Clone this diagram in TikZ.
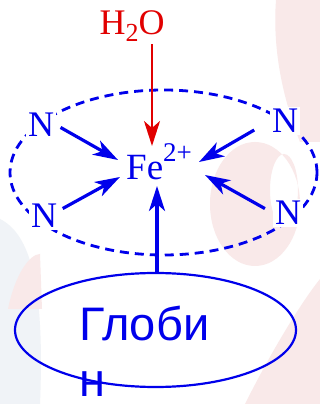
\documentclass[tikz,border=0pt]{standalone}
\usepackage{fontspec}
\setmainfont{Liberation Serif}
\newfontfamily\globfont{Liberation Sans}
\usetikzlibrary{arrows.meta,shapes.geometric}

\definecolor{ligblue}{RGB}{0,0,235}
\definecolor{watred}{RGB}{225,0,0}
\definecolor{bgpink}{RGB}{249,233,233}
\definecolor{bggrey}{RGB}{240,243,247}

\tikzset{
  lig/.style={ligblue, line width=3.2pt, -{Stealth[length=25pt,width=16pt,inset=7pt]}},
  atom/.style={text=ligblue, fill=white, inner sep=2pt, font=\fontsize{36}{36}\selectfont},
  ring/.style={draw=ligblue, ellipse, line width=2.8pt, dash pattern=on 9pt off 6pt,
    minimum width=307pt, minimum height=165pt},
  globe/.style={draw=ligblue, ellipse, line width=2.2pt, minimum width=281pt, minimum height=114pt}
}

\begin{document}
\begin{tikzpicture}[x=1pt,y=1pt]
  \useasboundingbox (0,0) rectangle (320,404);
  \fill[white] (0,0) rectangle (320,404);
  % faded protein behind
  \fill[bgpink] (276,404) .. controls (272,350) and (285,300) .. (300,262) -- (320,262) -- (320,404) -- cycle;
  \fill[bgpink, even odd rule] (255,200) ellipse [x radius=45, y radius=62]
                               (284,214) ellipse [x radius=14, y radius=36];
  \fill[bgpink] (245,0) .. controls (270,50) and (300,100) .. (320,125) -- (320,0) -- cycle;
  \fill[bggrey] (0,0) -- (0,185) .. controls (30,170) and (45,120) .. (40,0) -- cycle;
  \fill[bgpink] (8,95) .. controls (15,130) and (30,150) .. (40,150) -- (42,95) -- cycle;

  % porphyrin ring with its four nitrogens
  \node[ring] (porph) at (163.5,231.5) {};
  \node[atom] (nTL) at (41,279) {N};
  \node[atom] (nBL) at (44,188) {N};
  \node[atom] (nTR) at (285,283) {N};
  \node[atom] (nBR) at (288,191) {N};

  \node[text=ligblue, anchor=base west, inner sep=0pt, font=\fontsize{37}{37}\selectfont]
    (fe) at (126,224) {Fe\raisebox{18pt}{\fontsize{27}{27}\selectfont 2+}};
  \node[text=watred, anchor=base, inner sep=2pt, font=\fontsize{36}{36}\selectfont]
    (h2o) at (132,369) {H\raisebox{-7pt}{\fontsize{26}{26}\selectfont 2}O};

  \node[globe] (globin) at (155.5,74) {};
  \node[text=ligblue, anchor=base west, inner sep=0pt, align=left,
    font=\globfont\fontsize{47}{56}\selectfont] (gname) at (79,7) {Глоби\\н};

  % where the bonds meet the iron
  \coordinate (feNW) at (118,244);
  \coordinate (feSW) at (120,227);
  \coordinate (feNE) at (199,242);
  \coordinate (feSE) at (205,229);
  \coordinate (feN) at (152,258);
  \coordinate (feS) at (157,218);

  \draw[lig, shorten <=5pt] (nTL.east) -- (feNW);
  \draw[lig, shorten <=4pt] (nBL.20) -- (feSW);
  \draw[lig, shorten <=18pt] (nTR.west) -- (feNE);
  \draw[lig, shorten <=9pt] (nBR.west) -- (feSE);
  \draw[lig, watred, line width=2.4pt] (h2o.south -| feN) -- (feN);
  \draw[lig] (globin.north -| feS) -- (feS);
\end{tikzpicture}
\end{document}
